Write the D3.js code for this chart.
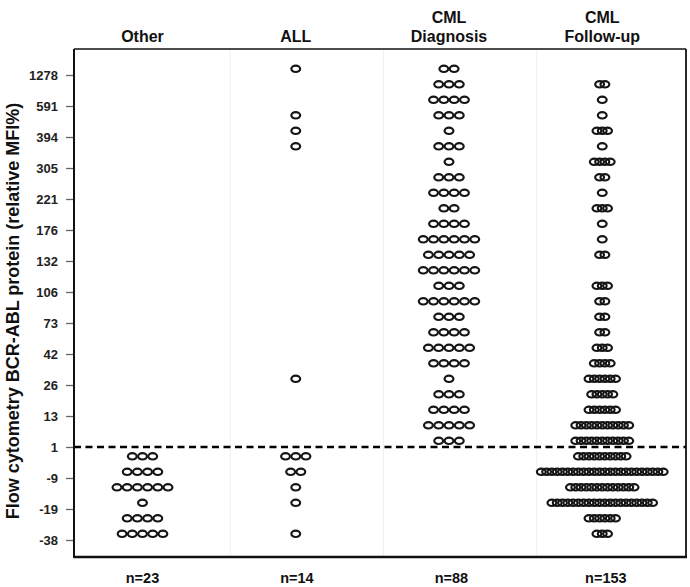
<!DOCTYPE html>
<html><head><meta charset="utf-8">
<script src="https://cdn.jsdelivr.net/npm/d3@7"></script>
<style>body{margin:0;background:#fff}svg{display:block}</style>
</head><body>
<div id="chart"></div>
<script>
// ---- data ----
const categories = ["Other", "ALL", "CML Diagnosis", "CML Follow-up"];
const headerLines = [["Other"], ["ALL"], ["CML", "Diagnosis"], ["CML", "Follow-up"]];
const nLabels = ["n=23", "n=14", "n=88", "n=153"];
const tickLabels = ["1278","591","394","305","221","176","132","106","73","42","26","13","1","-9","-19","-38"];
const cutoffLabel = "1";
// number of patients per display row (row 0 = top, 31 rows, two rows per tick interval)
const countsOther     = [0,0,0,0,0,0,0,0,0,0,0,0,0,0,0,0,0,0,0,0,0,0,0,0,0,3,4,6,1,4,5];
const countsALL       = [1,0,0,1,1,1,0,0,0,0,0,0,0,0,0,0,0,0,0,0,1,0,0,0,0,3,2,1,1,0,1];
const countsDiagnosis = [2,3,4,3,1,3,1,3,4,2,4,6,5,6,3,6,3,4,5,4,1,3,4,5,3,0,0,0,0,0,0];
const countsFollowUp  = [0,2,1,1,3,1,4,2,1,3,1,1,2,0,3,2,2,2,3,4,6,5,6,11,11,10,24,13,20,6,3];
const seriesCounts = [countsOther, countsALL, countsDiagnosis, countsFollowUp];

// ---- layout ----
const W = 690, H = 587;
const plot = {left: 74, right: 686, top: 49, bottom: 557};
const dotSpacing = [10.2, 10.2, 10.3, 5.3];

const svg = d3.select("#chart").append("svg").attr("width", W).attr("height", H)
  .style("font-family", "'Liberation Sans', Arial, sans-serif");

const x = d3.scaleBand().domain(categories).range([77, 690]).paddingInner(0).paddingOuter(0);
const xc = c => x(c) + 65.5;
const y = d3.scaleLinear().domain([0, tickLabels.length - 1]).range([75, 540]);
const rowY = k => y(k * 0.5 - 0.2);

// faint separators
svg.append("g").selectAll("line").data(categories.slice(1)).join("line")
  .attr("x1", d => x(d)).attr("x2", d => x(d))
  .attr("y1", plot.top).attr("y2", plot.bottom)
  .attr("stroke", "#efefef").attr("stroke-width", 1);

// dots
categories.forEach((cat, ci) => {
  const pts = [];
  seriesCounts[ci].forEach((n, k) => {
    for (let i = 0; i < n; i++) {
      pts.push({x: xc(cat) + (i - (n - 1) / 2) * dotSpacing[ci], y: rowY(k)});
    }
  });
  svg.append("g").selectAll("ellipse").data(pts).join("ellipse")
    .attr("cx", d => d.x).attr("cy", d => d.y)
    .attr("rx", 4.4).attr("ry", 3.2)
    .attr("fill", "none").attr("stroke", "#151515").attr("stroke-width", 2.2);
});

// dashed cutoff line
const cutY = y(tickLabels.indexOf(cutoffLabel));
svg.append("line").attr("x1", plot.left).attr("x2", plot.right)
  .attr("y1", cutY).attr("y2", cutY)
  .attr("stroke", "#000").attr("stroke-width", 2.4).attr("stroke-dasharray", "7,4.5");

// frame
svg.append("line").attr("x1", plot.left).attr("x2", plot.right).attr("y1", plot.top).attr("y2", plot.top)
  .attr("stroke", "#111").attr("stroke-width", 1.6);
svg.append("line").attr("x1", plot.right).attr("x2", plot.right).attr("y1", plot.top).attr("y2", plot.bottom)
  .attr("stroke", "#111").attr("stroke-width", 1.8);
svg.append("line").attr("x1", plot.left).attr("x2", plot.right + 1).attr("y1", plot.bottom).attr("y2", plot.bottom)
  .attr("stroke", "#111").attr("stroke-width", 2.4);

// y axis
const yAxis = d3.axisLeft(y).tickValues(d3.range(tickLabels.length))
  .tickFormat(i => tickLabels[i]).tickSize(8).tickPadding(8);
const gy = svg.append("g").attr("transform", `translate(${plot.left},0)`).call(yAxis);
gy.select(".domain").remove();
gy.append("line").attr("x1", 0).attr("x2", 0).attr("y1", plot.top).attr("y2", plot.bottom + 1)
  .attr("stroke", "#111").attr("stroke-width", 2);
gy.selectAll(".tick line").attr("stroke", "#666").attr("stroke-width", 1.3);
gy.selectAll(".tick text").attr("fill", "#222").style("font-size", "13px").style("font-weight", "bold")
  .style("font-family", "'Liberation Sans', Arial, sans-serif");

// y title
svg.append("text").attr("transform", `translate(19,311) rotate(-90)`)
  .attr("text-anchor", "middle").attr("fill", "#111")
  .style("font-size", "18px").style("font-weight", "bold")
  .text("Flow cytometry BCR-ABL protein (relative MFI%)");

// column headers
categories.forEach((cat, ci) => {
  const lines = headerLines[ci];
  lines.forEach((ln, li) => {
    svg.append("text").attr("x", xc(cat)).attr("y", 42 - (lines.length - 1 - li) * 19)
      .attr("text-anchor", "middle").attr("fill", "#111")
      .style("font-size", "16px").style("font-weight", "bold").text(ln);
  });
  svg.append("text").attr("x", xc(cat) + ci * 1.2).attr("y", 583)
    .attr("text-anchor", "middle").attr("fill", "#111")
    .style("font-size", "14.5px").style("font-weight", "bold").text(nLabels[ci]);
});
</script>
</body></html>
